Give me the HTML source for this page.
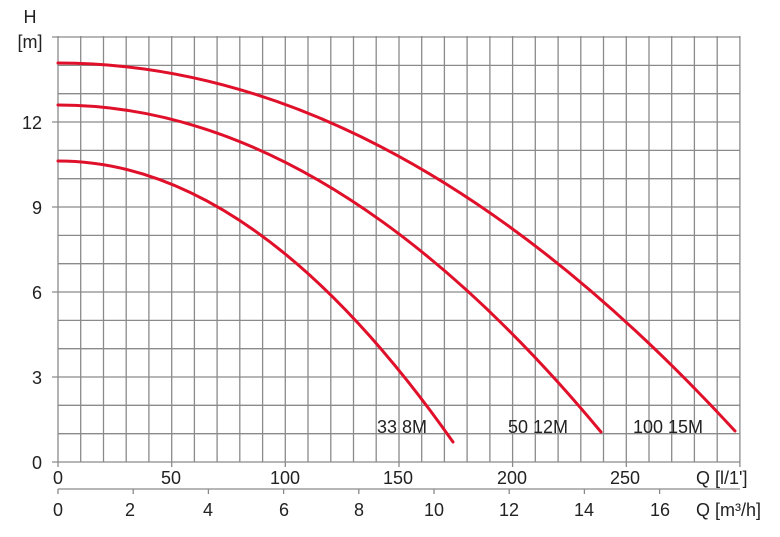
<!DOCTYPE html>
<html><head><style>body{margin:0;background:#fff}svg{display:block}text{font-family:"Liberation Sans",sans-serif;fill:#222}</style></head>
<body>
<svg width="780" height="537" viewBox="0 0 780 537">
<g stroke="#8a8a8a" stroke-width="1.3">
<line x1="58" y1="36" x2="58" y2="467"/><line x1="80.7" y1="36" x2="80.7" y2="462"/><line x1="103.5" y1="36" x2="103.5" y2="462"/><line x1="126.2" y1="36" x2="126.2" y2="462"/><line x1="148.9" y1="36" x2="148.9" y2="462"/><line x1="171.7" y1="36" x2="171.7" y2="467"/><line x1="194.4" y1="36" x2="194.4" y2="462"/><line x1="217.1" y1="36" x2="217.1" y2="462"/><line x1="239.8" y1="36" x2="239.8" y2="462"/><line x1="262.6" y1="36" x2="262.6" y2="462"/><line x1="285.3" y1="36" x2="285.3" y2="467"/><line x1="308" y1="36" x2="308" y2="462"/><line x1="330.8" y1="36" x2="330.8" y2="462"/><line x1="353.5" y1="36" x2="353.5" y2="462"/><line x1="376.2" y1="36" x2="376.2" y2="462"/><line x1="399" y1="36" x2="399" y2="467"/><line x1="421.7" y1="36" x2="421.7" y2="462"/><line x1="444.4" y1="36" x2="444.4" y2="462"/><line x1="467.1" y1="36" x2="467.1" y2="462"/><line x1="489.9" y1="36" x2="489.9" y2="462"/><line x1="512.6" y1="36" x2="512.6" y2="467"/><line x1="535.3" y1="36" x2="535.3" y2="462"/><line x1="558.1" y1="36" x2="558.1" y2="462"/><line x1="580.8" y1="36" x2="580.8" y2="462"/><line x1="603.5" y1="36" x2="603.5" y2="462"/><line x1="626.3" y1="36" x2="626.3" y2="467"/><line x1="649" y1="36" x2="649" y2="462"/><line x1="671.7" y1="36" x2="671.7" y2="462"/><line x1="694.4" y1="36" x2="694.4" y2="462"/><line x1="717.2" y1="36" x2="717.2" y2="462"/><line x1="739.9" y1="36" x2="739.9" y2="467"/>
<line x1="52" y1="462" x2="740" y2="462"/><line x1="58" y1="433.7" x2="740" y2="433.7"/><line x1="58" y1="405.3" x2="740" y2="405.3"/><line x1="52" y1="377" x2="740" y2="377"/><line x1="58" y1="348.7" x2="740" y2="348.7"/><line x1="58" y1="320.4" x2="740" y2="320.4"/><line x1="52" y1="292" x2="740" y2="292"/><line x1="58" y1="263.7" x2="740" y2="263.7"/><line x1="58" y1="235.4" x2="740" y2="235.4"/><line x1="52" y1="207" x2="740" y2="207"/><line x1="58" y1="178.7" x2="740" y2="178.7"/><line x1="58" y1="150.4" x2="740" y2="150.4"/><line x1="52" y1="122" x2="740" y2="122"/><line x1="58" y1="93.7" x2="740" y2="93.7"/><line x1="58" y1="65.4" x2="740" y2="65.4"/><line x1="52" y1="37" x2="740" y2="37"/>
<line x1="58" y1="489" x2="740" y2="489"/>
<line x1="58" y1="489" x2="58" y2="494"/><line x1="133.2" y1="489" x2="133.2" y2="494"/><line x1="208.4" y1="489" x2="208.4" y2="494"/><line x1="283.6" y1="489" x2="283.6" y2="494"/><line x1="358.8" y1="489" x2="358.8" y2="494"/><line x1="434" y1="489" x2="434" y2="494"/><line x1="509.2" y1="489" x2="509.2" y2="494"/><line x1="584.4" y1="489" x2="584.4" y2="494"/><line x1="659.6" y1="489" x2="659.6" y2="494"/>
</g>
<g fill="none" stroke="#e0102a" stroke-width="3" stroke-linecap="round">
<path d="M58,161 Q255.5,161 453,442"/>
<path d="M58,105 Q329.5,105 601,432"/>
<path d="M58,63 Q396.5,63 735,431"/>
</g>
<g font-size="18">
<text x="30" y="23" text-anchor="middle">H</text>
<text x="30" y="48" text-anchor="middle">[m]</text>
<g text-anchor="end"><text x="42" y="129">12</text><text x="42" y="214">9</text><text x="42" y="299">6</text><text x="42" y="384">3</text><text x="42" y="469">0</text></g>
<g text-anchor="middle"><text x="58" y="484">0</text><text x="171" y="484">50</text><text x="285" y="484">100</text><text x="398" y="484">150</text><text x="512" y="484">200</text><text x="625" y="484">250</text>
<text x="58" y="516">0</text><text x="130" y="516">2</text><text x="208" y="516">4</text><text x="284" y="516">6</text><text x="359" y="516">8</text><text x="434" y="516">10</text><text x="509" y="516">12</text><text x="584" y="516">14</text><text x="660" y="516">16</text></g>
<text x="696" y="484">Q [l/1']</text>
<text x="696" y="516">Q [m³/h]</text>
<text x="377" y="433">33 8M</text><text x="508" y="433">50 12M</text><text x="633" y="433">100 15M</text>
</g>
</svg>
</body></html>
